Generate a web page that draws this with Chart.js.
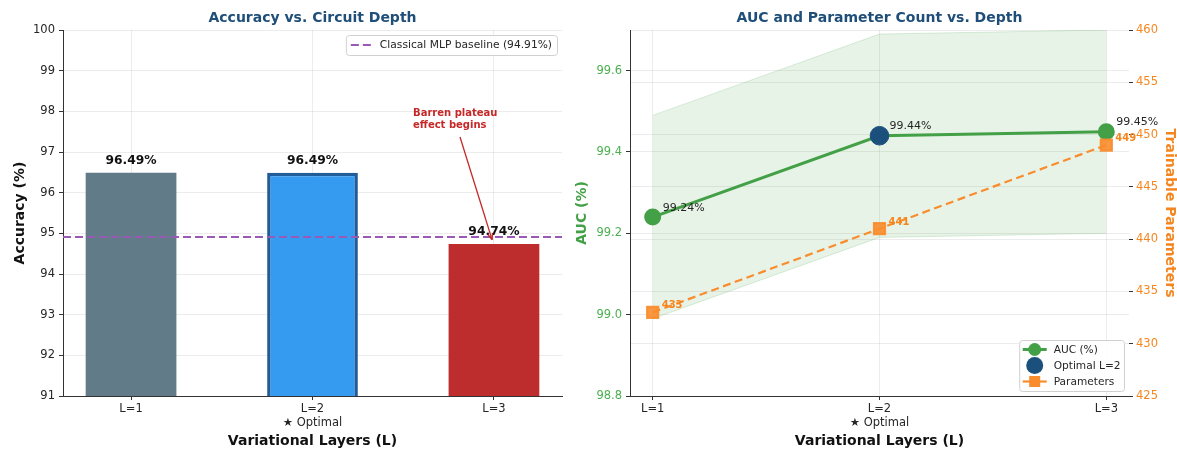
<!DOCTYPE html>
<html>
<head>
<meta charset="utf-8">
<script src="https://cdn.jsdelivr.net/npm/chart.js@4.4.1/dist/chart.umd.min.js"></script>
<style>
  html, body { margin: 0; padding: 0; background: #ffffff; overflow: hidden; }
  #wrap { position: relative; width: 1177px; height: 450px; }
  canvas { position: absolute; top: 0; }
  #acc { left: 0; }
  #auc { left: 575px; }
</style>
</head>
<body>
<div id="wrap">
  <canvas id="acc" width="575" height="450"></canvas>
  <canvas id="auc" width="602" height="450"></canvas>
</div>
<script>
// ---- data ----
const layers = ['L=1', 'L=2', 'L=3'];
const layerTickLabels = ['L=1', ['L=2', '★ Optimal'], 'L=3'];
const accuracy = [96.49, 96.49, 94.74];
const baselineAccuracy = 94.91;
const accuracyTicks = [91, 92, 93, 94, 95, 96, 97, 98, 99, 100];

const auc = [99.24, 99.44, 99.45];
const aucUpper = [99.49, 99.69, 99.70];
const aucLower = [98.99, 99.19, 99.20];
const trainableParams = [433, 441, 449];
const optimalIndex = 1;
const aucTicks = [98.8, 99.0, 99.2, 99.4, 99.6];
const paramTicks = [425, 430, 435, 440, 445, 450, 455, 460];

// ---- styling ----
Chart.defaults.font.family = "'DejaVu Sans', 'Liberation Sans', sans-serif";
Chart.defaults.color = '#262626';
const FONT = "'DejaVu Sans', 'Liberation Sans', sans-serif";
const TICK_SIZE = 11.5;
const GRID = 'rgba(0,0,0,0.075)';
const SPINE = '#333333';
const TITLE_BLUE = '#1f4e79';
const GREEN = '#43a047';
const GREEN_TICK = '#4caf50';
const ORANGE = '#f98c2c';
const ORANGE_TEXT = '#f5861f';
const NAVY = '#1b4f7c';
const PURPLE = '#9b59b6';
const RED_NOTE = '#c62828';

const barFill = ['#617b88', '#349bf1', '#bd2d2d'];
const barEdge = ['rgba(0,0,0,0)', '#1f5c99', 'rgba(0,0,0,0)'];
const barEdgeWidth = [0, 3.5, 0];

const toPoints = (vals) => vals.map((v, i) => ({ x: i, y: v }));
const fixedTicks = (list) => (scale) => { scale.ticks = list.map(v => ({ value: v })); };

// Draws a small framed legend; anchor is 'top-right' or 'bottom-right' within the plot area.
function drawLegend(chart, items, anchor, opts) {
  const { ctx, chartArea } = chart;
  ctx.save();
  ctx.font = `${opts.fontSize}px ${FONT}`;
  const textW = Math.max(...items.map(it => ctx.measureText(it.label).width));
  const w = opts.padX + opts.sampleW + opts.gap + textW + opts.padX;
  const h = opts.padY * 2 + items.length * opts.rowH;
  const x = chartArea.right - opts.margin - w;
  const y = anchor === 'top-right' ? chartArea.top + opts.margin : chartArea.bottom - opts.margin - h;
  ctx.fillStyle = 'rgba(255,255,255,0.85)';
  ctx.strokeStyle = '#d0d0d0';
  ctx.lineWidth = 1;
  ctx.beginPath();
  ctx.roundRect(x + 0.5, y + 0.5, w, h, 3);
  ctx.fill();
  ctx.stroke();
  items.forEach((it, k) => {
    const cy = y + opts.padY + opts.rowH * (k + 0.5);
    const sx = x + opts.padX;
    if (it.line) {
      ctx.strokeStyle = it.color;
      ctx.lineWidth = it.lineWidth;
      ctx.setLineDash(it.dash || []);
      ctx.beginPath();
      ctx.moveTo(sx, cy);
      ctx.lineTo(sx + opts.sampleW, cy);
      ctx.stroke();
      ctx.setLineDash([]);
    }
    if (it.marker) {
      ctx.fillStyle = it.markerColor;
      const mx = sx + opts.sampleW / 2;
      ctx.beginPath();
      if (it.marker === 'circle') ctx.arc(mx, cy, it.markerSize, 0, Math.PI * 2);
      else ctx.rect(mx - it.markerSize, cy - it.markerSize, it.markerSize * 2, it.markerSize * 2);
      ctx.fill();
    }
    ctx.fillStyle = '#262626';
    ctx.textAlign = 'left';
    ctx.textBaseline = 'middle';
    ctx.fillText(it.label, sx + opts.sampleW + opts.gap, cy + 0.5);
  });
  ctx.restore();
}

// ---- left panel: accuracy bars ----
const accuracyOverlay = {
  id: 'accuracyOverlay',
  afterDatasetsDraw(chart) {
    const { ctx, chartArea, scales } = chart;
    const meta = chart.getDatasetMeta(0);
    ctx.save();
    // baseline reference line
    const by = scales.y.getPixelForValue(baselineAccuracy);
    ctx.strokeStyle = PURPLE;
    ctx.lineWidth = 2;
    ctx.setLineDash([8, 4]);
    ctx.beginPath();
    ctx.moveTo(chartArea.left, by);
    ctx.lineTo(chartArea.right, by);
    ctx.stroke();
    ctx.setLineDash([]);
    // value labels above bars
    ctx.font = `bold 12.3px ${FONT}`;
    ctx.fillStyle = '#111';
    ctx.textAlign = 'center';
    ctx.textBaseline = 'alphabetic';
    meta.data.forEach((bar, i) => {
      const top = scales.y.getPixelForValue(accuracy[i]);
      ctx.fillText(accuracy[i].toFixed(2) + '%', bar.x, top - 8.5);
    });
    // barren plateau note with arrow
    const tipX = scales.x.getPixelForValue(2 - 0.01);
    const tipY = scales.y.getPixelForValue(accuracy[2] + 0.1);
    const tailX = scales.x.getPixelForValue(1.813);
    const tailY = scales.y.getPixelForValue(97.37);
    ctx.strokeStyle = RED_NOTE;
    ctx.fillStyle = RED_NOTE;
    ctx.lineWidth = 1.3;
    ctx.beginPath();
    ctx.moveTo(tailX, tailY);
    ctx.lineTo(tipX, tipY);
    ctx.stroke();
    const ang = Math.atan2(tipY - tailY, tipX - tailX);
    ctx.beginPath();
    ctx.moveTo(tipX, tipY);
    ctx.lineTo(tipX - 7 * Math.cos(ang - 0.35), tipY - 7 * Math.sin(ang - 0.35));
    ctx.moveTo(tipX, tipY);
    ctx.lineTo(tipX - 7 * Math.cos(ang + 0.35), tipY - 7 * Math.sin(ang + 0.35));
    ctx.stroke();
    ctx.font = `bold 10px ${FONT}`;
    ctx.textAlign = 'left';
    ctx.textBaseline = 'alphabetic';
    const nx = scales.x.getPixelForValue(1.554);
    const ny = scales.y.getPixelForValue(97.88);
    ctx.fillText('Barren plateau', nx, ny);
    ctx.fillText('effect begins', nx, ny + 11.5);
    ctx.restore();
    drawLegend(chart, [
      { label: `Classical MLP baseline (${baselineAccuracy.toFixed(2)}%)`, line: true, color: PURPLE, lineWidth: 2, dash: [8, 4] }
    ], 'top-right', { fontSize: 10.7, padX: 5, padY: 2, rowH: 16, sampleW: 20, gap: 9, margin: 5 });
  }
};

new Chart(document.getElementById('acc'), {
  type: 'bar',
  data: {
    datasets: [{
      label: 'Accuracy',
      data: toPoints(accuracy),
      backgroundColor: barFill,
      borderColor: barEdge,
      borderWidth: barEdgeWidth,
      borderSkipped: false,
      categoryPercentage: 1.0,
      barPercentage: 0.5
    }]
  },
  options: {
    responsive: false,
    animation: false,
    layout: { padding: { left: 0, right: 13, top: 0, bottom: 0 } },
    plugins: {
      legend: { display: false },
      tooltip: { enabled: false },
      title: {
        display: true,
        fullSize: false,
        text: 'Accuracy vs. Circuit Depth',
        color: TITLE_BLUE,
        font: { size: 14, weight: 'bold' },
        padding: { top: 10, bottom: 3.2 }
      }
    },
    scales: {
      x: {
        type: 'linear',
        min: -0.375,
        max: 2.375,
        offset: false,
        afterBuildTicks: fixedTicks([0, 1, 2]),
        afterFit: (s) => { s.height = 54; },
        ticks: {
          callback: (v, i) => layerTickLabels[i],
          color: '#262626',
          font: { size: TICK_SIZE },
          padding: 2,
          maxRotation: 0,
          autoSkip: false
        },
        grid: { color: GRID, tickColor: SPINE, tickLength: 4, offset: false },
        border: { display: true, color: SPINE, width: 1 },
        title: {
          display: true,
          text: 'Variational Layers (L)',
          color: '#111',
          font: { size: 14, weight: 'bold' },
          padding: { top: 0, bottom: 0.6 }
        }
      },
      y: {
        min: 91,
        max: 100,
        afterBuildTicks: fixedTicks(accuracyTicks),
        afterFit: (s) => { s.width = 63; },
        ticks: { color: '#262626', font: { size: TICK_SIZE }, padding: 4 },
        grid: { color: GRID, tickColor: SPINE, tickLength: 4 },
        border: { display: true, color: SPINE, width: 1 },
        title: {
          display: true,
          text: 'Accuracy (%)',
          color: '#111',
          font: { size: 14, weight: 'bold' },
          padding: { top: 11.6, bottom: 0 }
        }
      }
    }
  },
  plugins: [accuracyOverlay]
});

// ---- right panel: AUC and parameter count ----
const aucOverlay = {
  id: 'aucOverlay',
  afterDatasetsDraw(chart) {
    const { ctx, scales } = chart;
    ctx.save();
    ctx.textAlign = 'left';
    ctx.textBaseline = 'alphabetic';
    ctx.font = `11px ${FONT}`;
    ctx.fillStyle = '#262626';
    auc.forEach((v, i) => {
      const px = scales.x.getPixelForValue(i);
      const py = scales.y.getPixelForValue(v);
      ctx.fillText(v.toFixed(2) + '%', px + 10, py - 6.5);
    });
    ctx.font = `bold 10px ${FONT}`;
    ctx.fillStyle = ORANGE_TEXT;
    trainableParams.forEach((v, i) => {
      const px = scales.x.getPixelForValue(i);
      const py = scales.y1.getPixelForValue(v);
      ctx.fillText(String(v), px + 9, py - 4);
    });
    ctx.restore();
    drawLegend(chart, [
      { label: 'AUC (%)', line: true, color: GREEN, lineWidth: 3, marker: 'circle', markerColor: GREEN, markerSize: 6.5 },
      { label: 'Optimal L=2', line: false, marker: 'circle', markerColor: NAVY, markerSize: 8.5 },
      { label: 'Parameters', line: true, color: ORANGE, lineWidth: 2.2, marker: 'rect', markerColor: ORANGE, markerSize: 5.5 }
    ], 'bottom-right', { fontSize: 10.6, padX: 3.5, padY: 1.5, rowH: 16, sampleW: 24, gap: 7, margin: 5 });
  }
};

new Chart(document.getElementById('auc'), {
  type: 'line',
  data: {
    datasets: [
      {
        label: 'AUC upper',
        data: toPoints(aucUpper),
        borderColor: 'rgba(67,160,71,0.18)',
        borderWidth: 1,
        backgroundColor: 'rgba(67,160,71,0.13)',
        pointRadius: 0,
        fill: '+1',
        tension: 0,
        yAxisID: 'y',
        order: 5
      },
      {
        label: 'AUC lower',
        data: toPoints(aucLower),
        borderColor: 'rgba(67,160,71,0.18)',
        borderWidth: 1,
        pointRadius: 0,
        fill: false,
        tension: 0,
        yAxisID: 'y',
        order: 4
      },
      {
        label: 'AUC (%)',
        data: toPoints(auc),
        borderColor: GREEN,
        borderWidth: 3,
        backgroundColor: GREEN,
        pointBackgroundColor: GREEN,
        pointBorderColor: GREEN,
        pointRadius: 7,
        fill: false,
        tension: 0,
        yAxisID: 'y',
        order: 3
      },
      {
        label: 'Optimal L=2',
        data: [{ x: optimalIndex, y: auc[optimalIndex] }],
        showLine: false,
        pointBackgroundColor: NAVY,
        pointBorderColor: NAVY,
        pointRadius: 9.3,
        yAxisID: 'y',
        order: 2
      },
      {
        label: 'Parameters',
        data: toPoints(trainableParams),
        borderColor: ORANGE,
        borderWidth: 2.2,
        borderDash: [8, 4.5],
        pointStyle: 'rect',
        pointRadius: 7.8,
        pointBackgroundColor: 'rgba(249,140,44,0.9)',
        pointBorderColor: 'rgba(249,140,44,0.9)',
        fill: false,
        tension: 0,
        yAxisID: 'y1',
        order: 1
      }
    ]
  },
  options: {
    responsive: false,
    animation: false,
    layout: { padding: { left: 0, right: 0, top: 0, bottom: 0 } },
    plugins: {
      legend: { display: false },
      tooltip: { enabled: false },
      title: {
        display: true,
        fullSize: false,
        text: 'AUC and Parameter Count vs. Depth',
        color: TITLE_BLUE,
        font: { size: 14, weight: 'bold' },
        padding: { top: 10, bottom: 3.2 }
      }
    },
    scales: {
      x: {
        type: 'linear',
        min: -0.1,
        max: 2.1,
        afterBuildTicks: fixedTicks([0, 1, 2]),
        afterFit: (s) => { s.height = 54; },
        ticks: {
          callback: (v, i) => layerTickLabels[i],
          color: '#262626',
          font: { size: TICK_SIZE },
          padding: 2,
          maxRotation: 0,
          autoSkip: false
        },
        grid: { color: GRID, tickColor: SPINE, tickLength: 4 },
        border: { display: true, color: SPINE, width: 1 },
        title: {
          display: true,
          text: 'Variational Layers (L)',
          color: '#111',
          font: { size: 14, weight: 'bold' },
          padding: { top: 0, bottom: 0.6 }
        }
      },
      y: {
        position: 'left',
        min: 98.8,
        max: 99.7,
        afterBuildTicks: fixedTicks(aucTicks),
        afterFit: (s) => { s.width = 55; },
        ticks: { color: GREEN_TICK, font: { size: TICK_SIZE }, padding: 4, callback: (v) => v.toFixed(1) },
        grid: { color: GRID, tickColor: SPINE, tickLength: 4 },
        border: { display: true, color: SPINE, width: 1 },
        title: {
          display: true,
          text: 'AUC (%)',
          color: GREEN,
          font: { size: 14, weight: 'bold', lineHeight: 1 },
          padding: { top: 0, bottom: 0 }
        }
      },
      y1: {
        position: 'right',
        min: 425,
        max: 460,
        afterBuildTicks: fixedTicks(paramTicks),
        afterFit: (s) => { s.width = 48; },
        ticks: { color: ORANGE_TEXT, font: { size: TICK_SIZE }, padding: 3 },
        grid: { color: GRID, tickColor: SPINE, tickLength: 4 },
        border: { display: false },
        title: {
          display: true,
          text: 'Trainable Parameters',
          color: ORANGE_TEXT,
          font: { size: 14, weight: 'bold', lineHeight: 1 },
          padding: { top: 0, bottom: 0 }
        }
      }
    }
  },
  plugins: [aucOverlay]
});
</script>
</body>
</html>
